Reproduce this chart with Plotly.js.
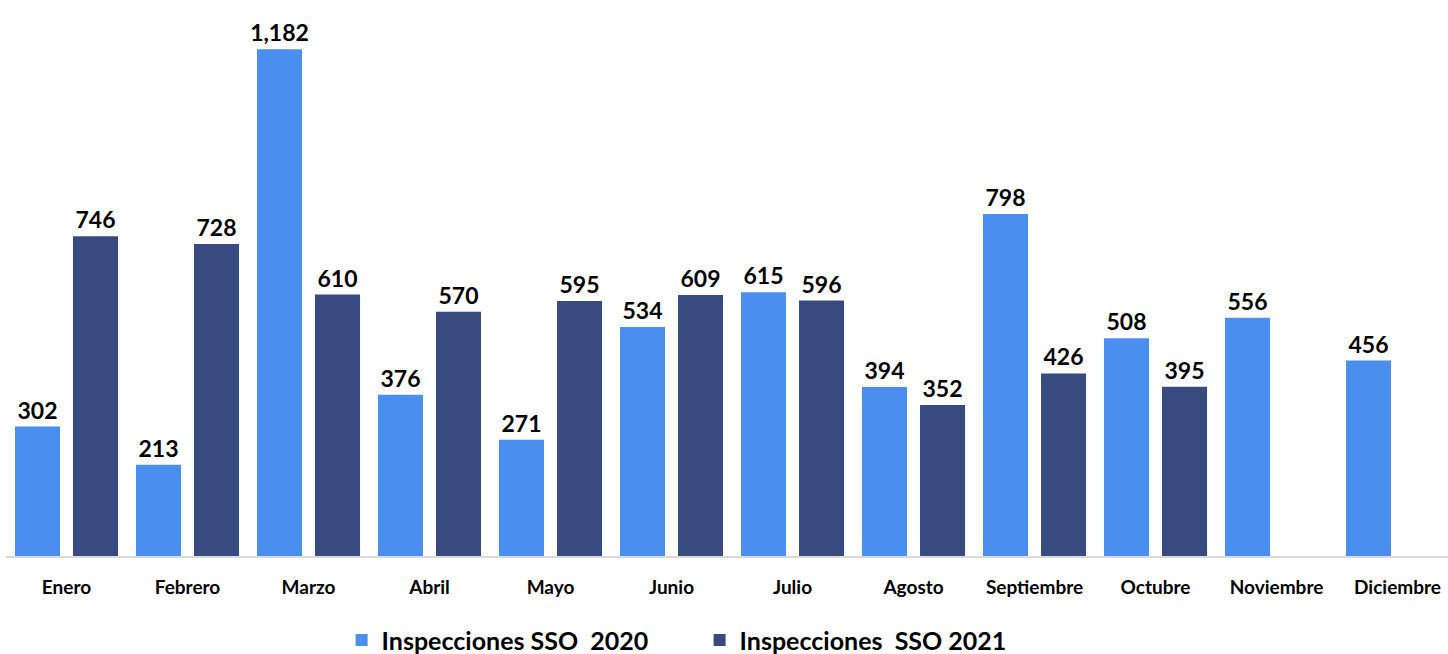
<!DOCTYPE html>
<html><head><meta charset="utf-8">
<script src="https://cdn.plot.ly/plotly-3.0.1.min.js"></script>
<style>html,body{margin:0;padding:0;background:#fff}#c{width:1448px;height:654px}</style>
</head><body><div id="c"></div>
<script>
const months = ["Enero","Febrero","Marzo","Abril","Mayo","Junio","Julio","Agosto","Septiembre","Octubre","Noviembre","Diciembre"];
const values2020 = [302,213,1182,376,271,534,615,394,798,508,556,456];
const values2021 = [746,728,610,570,595,609,596,352,426,395,null,null];
const name2020 = "Inspecciones SSO\u00a0 2020";
const name2021 = "Inspecciones\u00a0 SSO 2021";
const fmt = v => v == null ? "" : v.toLocaleString("en-US");
const font = "Lato, 'Open Sans', sans-serif";
const traces = [
  {type:"bar", x:months, y:values2020, name:name2020, marker:{color:"#4a8ff0"},
   text:values2020.map(fmt), textposition:"outside", cliponaxis:false, constraintext:"none",
   textfont:{family:font, size:23, color:"#000", weight:"bold"}, hoverinfo:"x+y"},
  {type:"bar", x:months, y:values2021, name:name2021, marker:{color:"#374b80"},
   text:values2021.map(fmt), textposition:"outside", cliponaxis:false, constraintext:"none",
   textfont:{family:font, size:23, color:"#000", weight:"bold"}, hoverinfo:"x+y"}
];
const layout = {
  width:1448, height:654, paper_bgcolor:"#fff", plot_bgcolor:"#fff",
  margin:{l:6, r:0, t:3, b:98, autoexpand:false},
  barmode:"group", bargap:0.041, bargroupgap:0.224,
  font:{family:font, color:"#000"},
  xaxis:{type:"category", range:[-0.5, 11.417], showline:true, linecolor:"#d9d9d9", linewidth:2,
         automargin:false, ticks:"", ticklabelstandoff:13,
         tickfont:{family:font, size:19, color:"#000", weight:"bold"}, showgrid:false, fixedrange:true},
  yaxis:{range:[0,1290], visible:false, showgrid:false, zeroline:false, fixedrange:true},
  showlegend:true,
  legend:{orientation:"h", x:0.481, xanchor:"center", yref:"container", y:0.021, yanchor:"middle",
          font:{family:font, size:25, color:"#000", weight:"bold"}, itemwidth:30, entrywidth:313, traceorder:"normal"}
};
Plotly.newPlot("c", traces, layout, {displayModeBar:false, staticPlot:true});
</script></body></html>
